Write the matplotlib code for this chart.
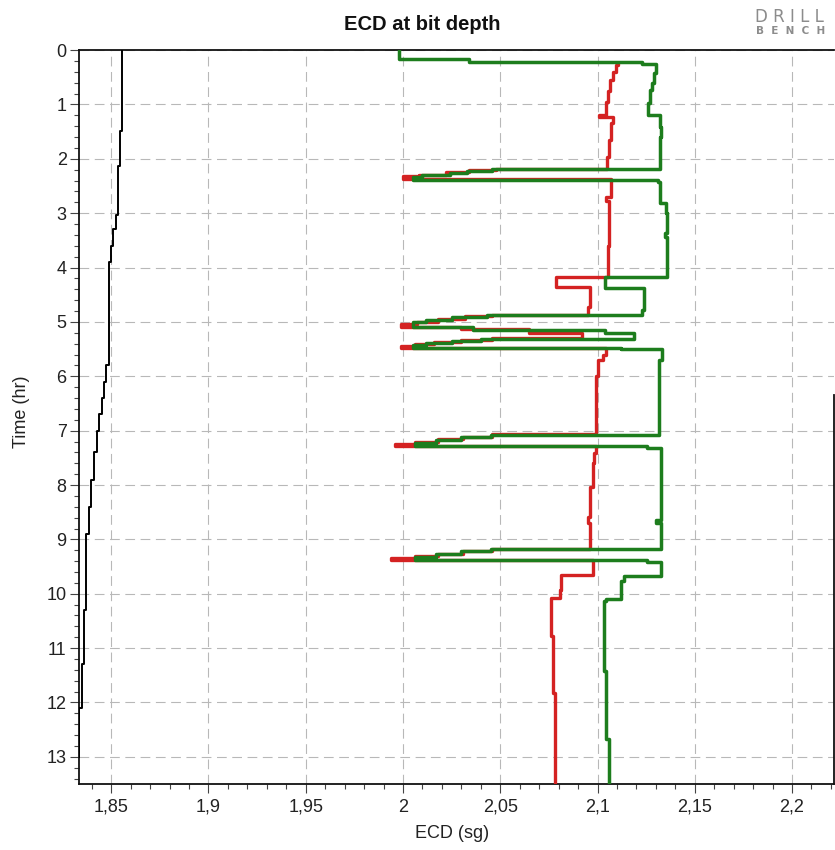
import matplotlib
matplotlib.use("Agg")
import matplotlib.pyplot as plt
from matplotlib.ticker import MultipleLocator, FuncFormatter

plt.rcParams["font.family"] = ["Liberation Sans", "DejaVu Sans"]
plt.rcParams["lines.scale_dashes"] = False

# ECD series: each value holds from its time until the next time (hr)
green_time = [0.00, 0.17, 0.22, 0.26, 0.43, 0.61, 0.74, 0.98, 1.20, 1.41, 1.59,
              2.19, 2.22, 2.26, 2.30, 2.34, 2.39, 2.42, 2.82, 3.00, 3.37, 3.43,
              4.18, 4.38, 4.78,
              4.88, 4.91, 4.96, 5.01, 5.09, 5.15, 5.20,
              5.31, 5.35, 5.39, 5.43, 5.48, 5.50, 5.70,
              7.08, 7.12, 7.17, 7.22, 7.29, 7.32, 8.64, 8.70,
              9.18, 9.22, 9.27, 9.32, 9.38, 9.41, 9.68, 9.77, 10.10, 10.14,
              11.43, 12.68, 13.50]
green_ecd = [1.998, 2.034, 2.123, 2.130, 2.129, 2.128, 2.127, 2.126, 2.132, 2.1325, 2.132,
             2.046, 2.033, 2.024, 2.010, 2.005, 2.131, 2.132, 2.135, 2.1355, 2.1347, 2.1355,
             2.104, 2.124, 2.1231,
             2.043, 2.025, 2.012, 2.005, 2.036, 2.104, 2.119,
             2.040, 2.025, 2.012, 2.005, 2.112, 2.1333, 2.1315,
             2.045, 2.030, 2.017, 2.006, 2.1257, 2.1325, 2.1299, 2.1325,
             2.045, 2.030, 2.017, 2.006, 2.1257, 2.1325, 2.1137, 2.112, 2.1044, 2.1035,
             2.1044, 2.1057, 2.1057]

red_time = [0.23, 0.28, 0.40, 0.55, 0.75, 0.95, 1.20, 1.24, 1.35, 1.65, 1.96,
            2.18, 2.21, 2.25, 2.29, 2.32, 2.38, 2.70, 2.78, 3.06, 3.61,
            4.18, 4.36, 4.72,
            4.87, 4.90, 4.95, 5.00, 5.04, 5.09, 5.13, 5.20,
            5.29, 5.33, 5.37, 5.41, 5.44, 5.48, 5.61, 5.70, 6.00, 6.62,
            7.07, 7.11, 7.16, 7.21, 7.25, 7.29, 7.41, 7.60, 8.03, 8.58, 8.70,
            9.17, 9.21, 9.26, 9.31, 9.35, 9.38, 9.65, 9.93, 10.08, 10.78, 11.83, 13.50]
red_ecd = [2.1103, 2.1095, 2.108, 2.1065, 2.1055, 2.1045, 2.101, 2.1078, 2.107, 2.106, 2.105,
           2.048, 2.034, 2.022, 2.008, 2.000, 2.1069, 2.1044, 2.1061, 2.1057, 2.1052,
           2.0789, 2.0959, 2.0950,
           2.046, 2.032, 2.018, 2.007, 1.999, 2.030, 2.065, 2.092,
           2.046, 2.030, 2.016, 2.006, 1.999, 2.1044, 2.1027, 2.1001, 2.0993, 2.099,
           2.046, 2.031, 2.018, 2.006, 1.996, 2.0993, 2.0984, 2.0976, 2.0959, 2.095, 2.0959,
           2.046, 2.031, 2.018, 2.006, 1.994, 2.0976, 2.0814, 2.0805, 2.0763, 2.0771, 2.078, 2.078]

black_time = [0.00, 1.48, 2.13, 3.04, 3.30, 3.60, 3.90, 5.80, 6.10, 6.40, 6.70,
              7.00, 7.40, 7.90, 8.40, 8.90, 10.30, 11.30, 12.10, 13.00]
black_ecd = [1.8553, 1.8545, 1.8535, 1.8522, 1.8508, 1.8497, 1.8488, 1.8475, 1.8463, 1.8452,
             1.8438, 1.8425, 1.8410, 1.8397, 1.8385, 1.8372, 1.8358, 1.8348, 1.8336, 1.8336]

x_limits = (1.8333, 2.2218)
y_limits = (13.5, 0.0)

fig = plt.figure(figsize=(8.35, 8.5), dpi=100)
fig.patch.set_facecolor("white")
ax = fig.add_axes([0.0943, 0.0776, 0.905, 0.8635])

ax.plot(black_ecd, black_time, drawstyle="steps-pre", color="black", lw=1.4, zorder=3)
ax.plot(red_ecd, red_time, drawstyle="steps-pre", color="#d42222", lw=2.4, zorder=4)
ax.plot(green_ecd, green_time, drawstyle="steps-pre", color="#1d7d1d", lw=2.5, zorder=5)

ax.set_xlim(*x_limits)
ax.set_ylim(*y_limits)

ax.xaxis.set_major_locator(MultipleLocator(0.05))
ax.xaxis.set_minor_locator(MultipleLocator(0.01))
ax.yaxis.set_major_locator(MultipleLocator(1))
ax.yaxis.set_minor_locator(MultipleLocator(0.2))


def comma_fmt(v, pos):
    s = f"{v:.2f}".rstrip("0").rstrip(".")
    return s.replace(".", ",")


ax.xaxis.set_major_formatter(FuncFormatter(comma_fmt))
ax.yaxis.set_major_formatter(FuncFormatter(lambda v, p: f"{v:.0f}"))

ax.grid(which="major", color="#b8b8b8", linestyle=(0, (7, 4)), linewidth=0.8, zorder=0)
ax.set_axisbelow(True)
ax.tick_params(which="major", length=6.5, width=0.8, color="#444444",
               labelsize=13, labelcolor="#222222")
ax.tick_params(which="minor", length=3.6, width=0.8, color="#444444")
ax.tick_params(axis="x", which="major", pad=4.0)
ax.tick_params(axis="y", which="major", pad=2.2)

for side in ("left", "bottom", "top", "right"):
    ax.spines[side].set_linewidth(1.3)
    ax.spines[side].set_color("#111111")
ax.spines["right"].set_bounds(6.35, 13.5)

fig.text(422 / 835, 1 - 24 / 850, "ECD at bit depth", ha="center", va="center",
         fontsize=14.5, fontweight="bold", color="#111111")
fig.text(21 / 835, 1 - 412 / 850, "Time (hr)", ha="center", va="center",
         rotation=90, fontsize=13, color="#222222")
fig.text(452 / 835, 1 - 834 / 850, "ECD (sg)", ha="center", va="center",
         fontsize=13, color="#222222")

fig.text(755 / 835, 1 - 17 / 850, "D R I L L", ha="left", va="center",
         fontsize=12, color="#8c8c8c", family="DejaVu Sans")
fig.text(756 / 835, 1 - 31 / 850, "B  E  N  C  H", ha="left", va="center",
         fontsize=7.5, color="#8c8c8c", family="DejaVu Sans", fontweight="bold")

fig.savefig("out.png", dpi=100, facecolor="white")
